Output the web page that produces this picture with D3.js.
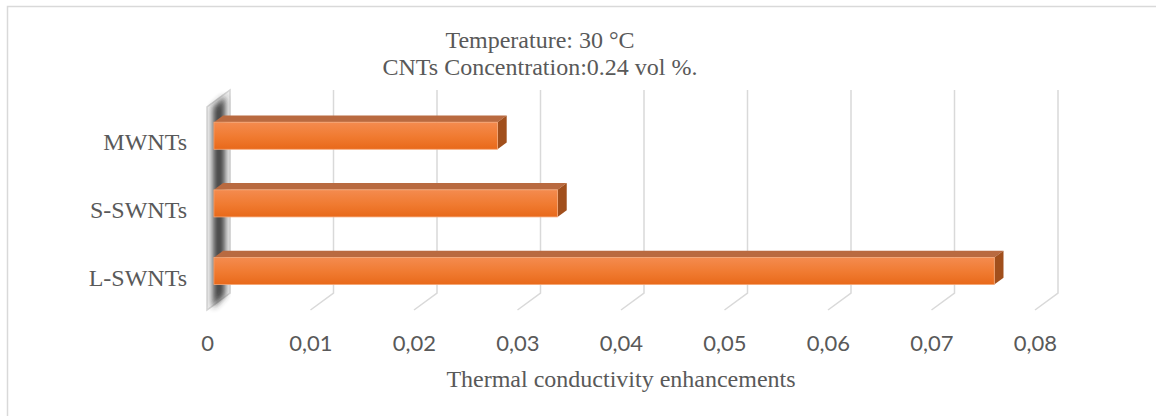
<!DOCTYPE html>
<html>
<head>
<meta charset="utf-8">
<script src="https://cdn.jsdelivr.net/npm/d3@7"></script>
<style>
  body { margin: 0; background: #fff; }
  svg { display: block; }
</style>
</head>
<body>
<script>
const categories = ["MWNTs", "S-SWNTs", "L-SWNTs"];
const values = [0.0274, 0.0332, 0.0754];
const tickValues = [0, 0.01, 0.02, 0.03, 0.04, 0.05, 0.06, 0.07, 0.08];
const titleLines = ["Temperature: 30 °C", "CNTs Concentration:0.24 vol %."];
const xTitle = "Thermal conductivity enhancements";

const W = 1156, H = 416;
const depth = { dx: -23, dy: 17 };   // back wall -> front edge of floor
const barZ = [0.3, 0.7];             // bar depth span

const svg = d3.select("body").append("svg")
    .attr("width", W)
    .attr("height", H);

const defs = svg.append("defs");
defs.append("filter").attr("id", "blur")
    .attr("x", "-50%").attr("width", "200%")
    .append("feGaussianBlur").attr("stdDeviation", 3);

const face = defs.append("linearGradient").attr("id", "face")
    .attr("x1", 0).attr("y1", 0).attr("x2", 0).attr("y2", 1);
face.append("stop").attr("offset", "0%").attr("stop-color", "#f48b4f");
face.append("stop").attr("offset", "55%").attr("stop-color", "#f07a30");
face.append("stop").attr("offset", "100%").attr("stop-color", "#e8691a");

svg.append("rect")
    .attr("x", 7.5).attr("y", 6.5)
    .attr("width", W).attr("height", H)
    .attr("fill", "#fff")
    .attr("stroke", "#d9d9d9")
    .attr("stroke-width", 1.5);

// back-wall scales
const x = d3.scaleLinear().domain([0, 0.08]).range([230, 1058]);
const y = d3.scaleBand().domain(categories).range([90, 293])
    .paddingInner(0.6).paddingOuter(0.3);
const yTop = 90, yBot = 293;

// gridlines: back wall + floor diagonal
const grid = svg.append("g").attr("fill", "none")
    .attr("stroke", "#d9d9d9").attr("stroke-width", 1.5);
grid.selectAll("path").data(tickValues.filter(d => d > 0)).join("path")
    .attr("d", d => `M${x(d)},${yTop}V${yBot}l${depth.dx},${depth.dy}`);

// left wall with shadow
const x0 = x(0);
const wallPts = [[x0, yTop], [x0, yBot], [x0 + depth.dx, yBot + depth.dy], [x0 + depth.dx, yTop + depth.dy]];
svg.append("polygon")
    .attr("points", wallPts.join(" "))
    .attr("fill", "#eeeeee")
    .attr("stroke", "#d4d4d4")
    .attr("stroke-width", 1.5);
svg.append("polygon")
    .attr("points", [[x0 - 5, yTop + 6], [x0 - 5, yBot + 2], [x0 + depth.dx + 6, yBot + depth.dy - 2], [x0 + depth.dx + 6, yTop + depth.dy]].join(" "))
    .attr("fill", "#333333")
    .attr("opacity", 0.9)
    .attr("filter", "url(#blur)");

// bars
const fx = barZ[1] * depth.dx, fy = barZ[1] * depth.dy;
const bx = barZ[0] * depth.dx, by = barZ[0] * depth.dy;
const tdx = bx - fx, tdy = by - fy;
const bars = svg.append("g").selectAll("g")
    .data(categories.map((c, i) => ({ c, v: values[i] })))
    .join("g");
bars.append("path")
    .attr("fill", "#b96a40")
    .attr("d", d => {
        const l = x(0) + fx, r = x(d.v) + fx, t = y(d.c) + fy;
        return `M${l},${t}L${l + tdx},${t + tdy}L${r + tdx},${t + tdy}L${r},${t}Z`;
    });
bars.append("path")
    .attr("fill", "#a14f1c")
    .attr("d", d => {
        const r = x(d.v) + fx, t = y(d.c) + fy, b = t + y.bandwidth();
        return `M${r},${t}L${r + tdx},${t + tdy}L${r + tdx},${b + tdy}L${r},${b}Z`;
    });
bars.append("rect")
    .attr("x", x(0) + fx)
    .attr("y", d => y(d.c) + fy)
    .attr("width", d => x(d.v) - x(0))
    .attr("height", y.bandwidth())
    .attr("fill", "url(#face)")
    .attr("stroke", "#f6a878")
    .attr("stroke-width", 0.8);

// category labels
svg.append("g").selectAll("text").data(categories).join("text")
    .attr("x", 187)
    .attr("y", d => y(d) + fy + y.bandwidth() + 1)
    .attr("text-anchor", "end")
    .attr("font-family", "'Liberation Serif', serif")
    .attr("font-size", 24)
    .attr("fill", "#595959")
    .text(d => d);

// value axis along the floor front edge
const xFront = x.copy().range(x.range().map(v => v + depth.dx));
const axis = svg.append("g")
    .attr("transform", `translate(0,${yBot + depth.dy + 22})`)
    .call(d3.axisBottom(xFront).tickValues(tickValues).tickSize(0)
        .tickFormat(d => d === 0 ? "0" : d3.format(".2f")(d).replace(".", ",")));
axis.select(".domain").remove();
axis.selectAll("text")
    .attr("font-family", "Lato, sans-serif")
    .attr("font-size", 22)
    .attr("fill", "#595959");

// titles
svg.append("g").selectAll("text").data(titleLines).join("text")
    .attr("x", 540)
    .attr("y", (d, i) => 48 + i * 27)
    .attr("text-anchor", "middle")
    .attr("font-family", "'Liberation Serif', serif")
    .attr("font-size", 24)
    .attr("fill", "#595959")
    .text(d => d);

svg.append("text")
    .attr("x", 621)
    .attr("y", 387)
    .attr("text-anchor", "middle")
    .attr("font-family", "'Liberation Serif', serif")
    .attr("font-size", 24)
    .attr("fill", "#595959")
    .text(xTitle);
</script>
</body>
</html>
